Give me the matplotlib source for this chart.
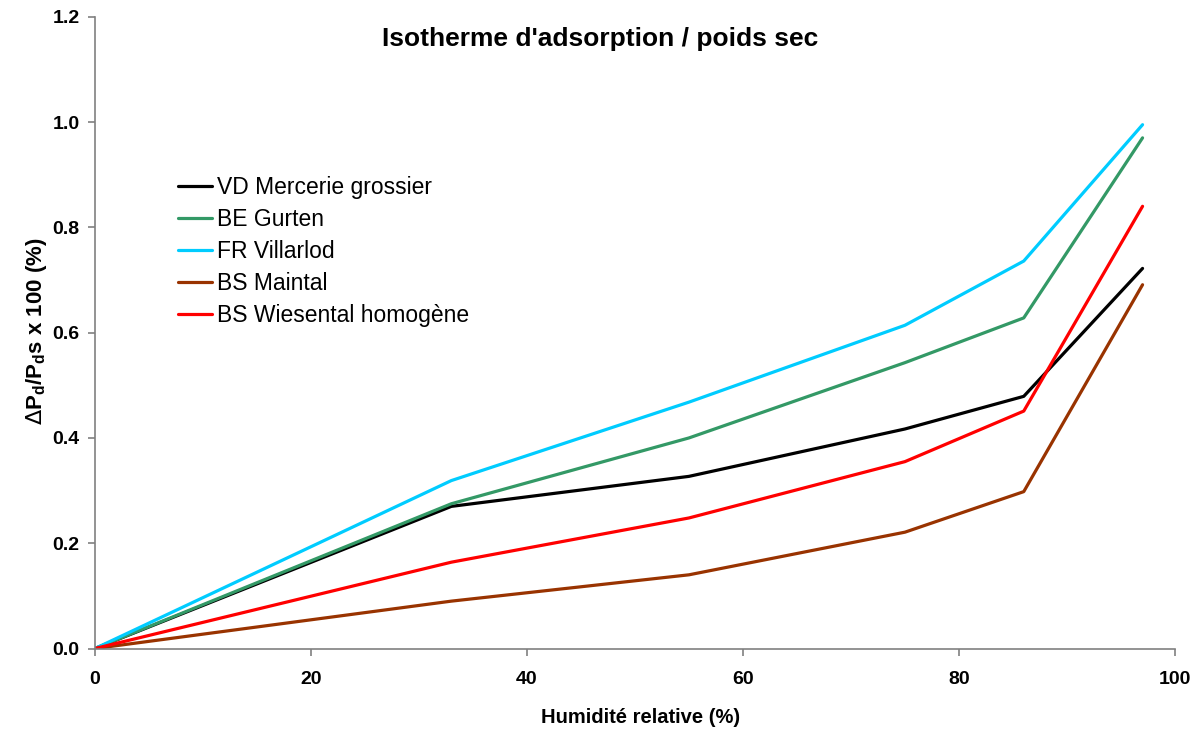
import numpy as np
import matplotlib
matplotlib.use('Agg')
import matplotlib.pyplot as plt

plt.rcParams['font.family'] = ['Liberation Sans', 'DejaVu Sans']

# relative humidity (%)
humidite = [0, 33, 55, 75, 86, 97]

# mass gain dPd/Pds x 100 (%)
vd_mercerie = [0, 0.270, 0.327, 0.417, 0.479, 0.722]
be_gurten = [0, 0.275, 0.400, 0.543, 0.628, 0.970]
fr_villarlod = [0, 0.319, 0.468, 0.614, 0.736, 0.995]
bs_maintal = [0, 0.090, 0.140, 0.221, 0.298, 0.691]
bs_wiesental = [0, 0.164, 0.248, 0.355, 0.451, 0.840]

series = [
    ('VD Mercerie grossier', vd_mercerie, '#000000'),
    ('BE Gurten', be_gurten, '#339966'),
    ('FR Villarlod', fr_villarlod, '#00CCFF'),
    ('BS Maintal', bs_maintal, '#993300'),
    ('BS Wiesental homogène', bs_wiesental, '#FF0000'),
]

fig = plt.figure(figsize=(12.02, 7.29), dpi=100)
ax = fig.add_axes([0.079, 0.1104, 0.8985, 0.8666])

for name, vals, col in series:
    ax.plot(humidite, vals, color=col, lw=2.3, label=name, solid_capstyle='round')

ax.set_xlim(0, 100)
ax.set_ylim(0, 1.2)
ax.set_xticks(np.arange(0, 101, 20))
ax.set_yticks(np.arange(0, 1.21, 0.2))
ax.set_yticklabels(['%.1f' % v for v in np.arange(0, 1.21, 0.2)])

for s in ['top', 'right']:
    ax.spines[s].set_visible(False)
for s in ['left', 'bottom']:
    ax.spines[s].set_color('#808080')
    ax.spines[s].set_linewidth(1.2)

ax.tick_params(axis='both', color='#808080', length=5, width=1.2, labelsize=14)
ax.tick_params(axis='x', pad=11)
ax.tick_params(axis='y', pad=6)
for lab in ax.get_xticklabels() + ax.get_yticklabels():
    lab.set_fontweight('bold')

ax.set_xlabel('Humidité relative (%)', fontsize=14.5, fontweight='bold')
ax.xaxis.set_label_coords(0.5056, -0.094)
ax.set_ylabel(r'$\Delta$P$_\mathregular{d}$/P$_\mathregular{d}$s x 100 (%)', fontsize=16,
              fontweight='bold')
ax.yaxis.set_label_coords(-0.043, 0.503)

ax.set_title("Isotherme d'adsorption / poids sec", fontsize=19, fontweight='bold',
             x=0.468, y=0.94)

leg = ax.legend(loc='upper left', bbox_to_anchor=(0.068, 0.763), frameon=False,
                fontsize=16.5, handlelength=1.5, handletextpad=0.2, labelspacing=0.40,
                borderaxespad=0)

fig.savefig('out.png', dpi=100)
